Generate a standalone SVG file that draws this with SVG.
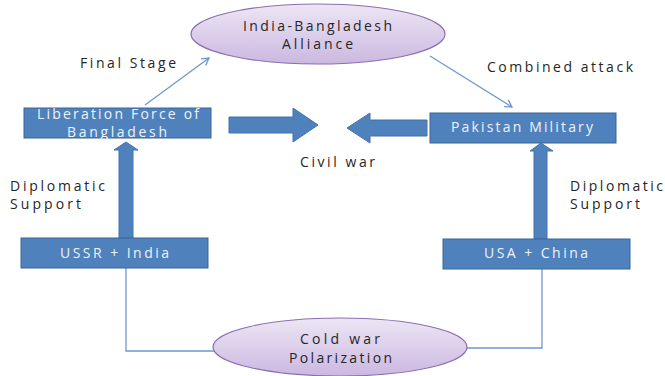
<svg xmlns="http://www.w3.org/2000/svg" width="665" height="376" viewBox="0 0 665 376">
<style>
.box{fill:#4F81BD;stroke:#3B6595;stroke-width:1}
.ell{fill:url(#lav);stroke:#8A6FAE;stroke-width:1.2}
.blk{fill:#4F81BD;stroke:#4373AC;stroke-width:1}
.t{font-family:"Open Sans","DejaVu Sans",sans-serif;font-size:14px;fill:#262626}
.w{fill:#EEF3FA}
.ln{fill:none;stroke:#6F98CC;stroke-width:1.3}
</style>
<defs>
<linearGradient id="lav" x1="0" y1="0" x2="0" y2="1">
<stop offset="0" stop-color="#EDE6F5"/>
<stop offset="1" stop-color="#CBB8E0"/>
</linearGradient>
<marker id="ah" markerWidth="10" markerHeight="10" refX="8" refY="5" orient="auto" markerUnits="userSpaceOnUse">
<path d="M1,1 L8,5 L1,9" fill="none" stroke="#6F98CC" stroke-width="1.3"/>
</marker>
</defs>
<rect width="665" height="376" fill="#fff"/>
<g id="connectors">
<line class="ln" x1="145" y1="105" x2="209" y2="58" marker-end="url(#ah)"/>
<line class="ln" x1="430" y1="56" x2="512" y2="107" marker-end="url(#ah)"/>
<polyline class="ln" points="126,268 126,351 214,351"/>
<polyline class="ln" points="542,269 542,348 466,348"/>
<path class="blk" d="M229,117 H293 V108 L318,125 L293,142 V133 H229 Z"/>
<path class="blk" d="M427,120 H370 V113 L347,128 L370,143 V136 H427 Z"/>
<path class="blk" d="M119,238 V150 H114 L126,142 L138,150 H133 V238 Z"/>
<path class="blk" d="M534,239 V151 H530 L541,143 L553,151 H547 V239 Z"/>
</g>
<g id="alliance">
<ellipse class="ell" cx="318" cy="34" rx="127" ry="30"/>
<text class="t" x="243" y="31" textLength="149" lengthAdjust="spacing">India-Bangladesh</text>
<text class="t" x="282" y="49" textLength="71" lengthAdjust="spacing">Alliance</text>
</g>
<g id="liberation">
<rect class="box" x="24" y="108" width="187" height="30"/>
<text class="t w" x="37" y="119" textLength="162" lengthAdjust="spacing">Liberation Force of</text>
<text class="t w" x="67" y="137" textLength="100" lengthAdjust="spacing">Bangladesh</text>
</g>
<g id="pakistan">
<rect class="box" x="430" y="113" width="186" height="30"/>
<text class="t w" x="451" y="132" textLength="142" lengthAdjust="spacing">Pakistan Military</text>
</g>
<g id="ussr">
<rect class="box" x="21" y="238" width="187" height="30"/>
<text class="t w" x="60" y="258" textLength="109" lengthAdjust="spacing">USSR + India</text>
</g>
<g id="usa">
<rect class="box" x="443" y="239" width="187" height="30"/>
<text class="t w" x="484" y="258" textLength="104" lengthAdjust="spacing">USA + China</text>
</g>
<g id="coldwar">
<ellipse class="ell" cx="340" cy="347" rx="127" ry="29"/>
<text class="t" x="300" y="344" textLength="80" lengthAdjust="spacing">Cold war</text>
<text class="t" x="289" y="363" textLength="103" lengthAdjust="spacing">Polarization</text>
</g>
<g id="labels">
<text class="t" x="80" y="68" textLength="96" lengthAdjust="spacing">Final Stage</text>
<text class="t" x="487" y="72" textLength="146" lengthAdjust="spacing">Combined attack</text>
<text class="t" x="300" y="167" textLength="75" lengthAdjust="spacing">Civil war</text>
<text class="t" x="10" y="191" textLength="95" lengthAdjust="spacing">Diplomatic</text>
<text class="t" x="10" y="209" textLength="71" lengthAdjust="spacing">Support</text>
<text class="t" x="570" y="191" textLength="93" lengthAdjust="spacing">Diplomatic</text>
<text class="t" x="570" y="209" textLength="70" lengthAdjust="spacing">Support</text>
</g>
</svg>
